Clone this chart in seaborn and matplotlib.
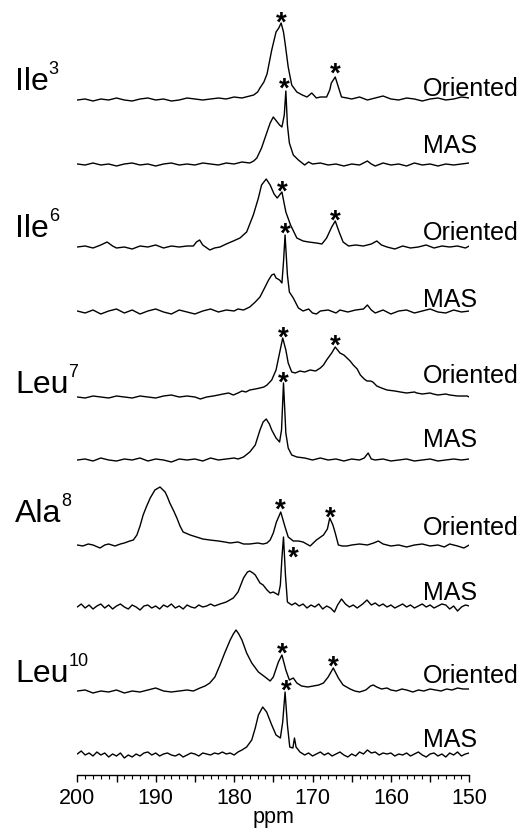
import numpy as np
import matplotlib
matplotlib.use('Agg')
import matplotlib.pyplot as plt
from matplotlib.ticker import MultipleLocator, FuncFormatter
import seaborn as sns

# spectra: (ppm, intensity above own baseline)
ile3_oriented = [(200, 0), (199, 1), (198, -1), (197, 1), (196, 0), (195, 2), (194, 0), (193, -1), (192, 1),
                 (191, 2), (190, 0), (189, 1), (188, -1), (187, 0), (186, 2), (185, 1), (184, 0), (183, 1),
                 (182, 2), (181, 1), (180, 3), (179, 2), (178, 4), (177.5, 5), (177, 8), (176.7, 12),
                 (176.2, 18), (175.8, 26), (175.2, 50), (174.65, 68), (174.3, 72), (174.0, 77), (173.7, 68),
                 (173.5, 57), (173.1, 33), (172.65, 15), (172.0, 8), (171.3, 5), (170.7, 3), (170.1, 7),
                 (169.5, 2), (169.0, 3), (168.2, 3), (167.8, 10), (167.6, 17), (167.1, 23), (166.7, 13),
                 (166.3, 3), (165.6, 2), (165, 1), (164, 3), (163, 0), (162, 2), (161, 4), (160, 1), (159, 0),
                 (158, 2), (157, 1), (156, -1), (155, 1), (154, 2), (153, 0), (152, 1), (151, 3), (150, 2)]
ile3_mas = [(200, 1), (199, 0), (198, 2), (197, 0), (196, 1), (195, -1), (194, 1), (193, 2), (192, 0), (191, 1),
            (190, -1), (189, 1), (188, 2), (187, 0), (186, 1), (185, 0), (184, 2), (183, 1), (182, 0), (181, 2),
            (180, 1), (179, 3), (178, 2), (177.5, 4), (177.1, 7), (176.5, 17), (175.8, 33), (175.4, 42),
            (175.0, 48), (174.6, 44), (174.2, 40), (173.9, 38), (173.6, 50), (173.4, 74), (173.2, 40),
            (172.95, 22), (172.45, 10), (171.8, 5), (171.0, 0), (170.5, 3), (170, 1), (169, 2), (168, 0),
            (167, 1), (166, -1), (165, 1), (164, 0), (163, 4), (162.5, 1), (162, -1), (161, 2), (160, 0),
            (159, 1), (158, -1), (157, 2), (156, 0), (155, 1), (154, -1), (153, 1), (152, 0), (151, 1), (150, 2)]
ile6_oriented = [(200, 0), (199, 1), (198, -1), (197, 2), (196.2, 5), (195.5, 1), (195, -1), (194, 0), (193, -2),
                 (192, 1), (191, 0), (190, 2), (189, -1), (188, 1), (187, 0), (186, 1), (185.2, 1), (184.8, 5),
                 (184.4, 7), (184.0, 2), (183.1, -3), (182.5, -1), (181.8, 0), (181, 3), (180.1, 6), (179.25, 9),
                 (178.4, 15), (177.55, 32), (176.9, 49), (176.5, 62), (175.9, 68), (175.4, 62), (174.9, 53),
                 (174.5, 49), (173.9, 55), (173.4, 35), (172.8, 22), (172.0, 9), (171.2, 6), (170.5, 5),
                 (169.5, 4), (168.8, 3), (168.2, 9), (167.55, 20), (167.1, 26), (166.6, 15), (166.1, 5),
                 (165.4, 1), (164.5, 2), (163.5, 1), (162.5, 3), (161.8, 6), (161.2, 2), (160.5, 0), (159.5, -2),
                 (158.5, 1), (157.5, -1), (156.5, 0), (155.5, 2), (154.5, -1), (153.5, 1), (152.5, 0),
                 (151.5, 1), (150.5, -1), (150, 1)]
ile6_mas = [(200, 1), (199, -1), (198, 2), (197, -2), (196, 1), (195, 3), (194, -1), (193, 2), (192, -2), (191, 1),
            (190, 3), (189, 0), (188, -2), (187, 2), (186, 0), (185, -2), (184, 1), (183, 3), (182, 0), (181, 2),
            (180, 1), (179.5, 3), (178.8, 2), (178, 5), (177.3, 10), (176.7, 15), (176.05, 25), (175.6, 32),
            (175.2, 37), (174.9, 38), (174.65, 34), (174.2, 32), (173.9, 29), (173.7, 50), (173.5, 77),
            (173.2, 37), (172.95, 20), (172.45, 14), (171.8, 4), (171.2, 1), (170.5, 3), (170, -1),
            (169.5, -2), (169, 1), (168, 2), (167, -1), (166.5, 2), (165.5, 0), (164.5, 2), (163.5, 3),
            (163, 7), (162.5, 2), (162, -1), (161, 2), (160, -2), (159, 1), (158, 2), (157, -1), (156, 1),
            (155, 3), (154, 0), (153, -1), (152, 2), (151, 0), (150, 1)]
leu7_oriented = [(200, 0), (199, -1), (198, 1), (197, 0), (196, -1), (195, 1), (194, 0), (193, -1), (192, 1),
                 (191, 0), (190, -1), (189, 1), (188, 2), (187, 0), (186, 1), (185, 0), (184.3, -2), (183.5, 0),
                 (182.65, 1), (182, 2), (181.4, 3), (180.7, 4), (180.1, 2), (179.5, 4), (179.0, 6), (178.5, 5),
                 (178.0, 7), (177.3, 8), (176.7, 9), (176.2, 10), (175.8, 12), (175.2, 17), (174.65, 27),
                 (174.2, 44), (173.8, 59), (173.4, 47), (173.1, 34), (172.65, 25), (172.2, 24), (171.6, 26),
                 (171, 25), (170.3, 27), (169.6, 26), (169.0, 29), (168.6, 32), (168.2, 37), (167.55, 44),
                 (167.1, 50), (166.8, 47), (166.5, 44), (166.0, 42), (165.6, 39), (165.2, 36), (164.8, 32),
                 (164.3, 28), (163.9, 22), (163.4, 18), (163.05, 16), (162.6, 16), (162.3, 15), (161.8, 11),
                 (161.2, 9), (160.5, 7), (159.5, 6), (158.8, 5), (158, 4), (157, 5), (156.7, 4), (156, 3),
                 (155, 4), (154.6, 3), (154, 2), (153, 3), (152.5, 2), (151.5, 1), (150.3, 1), (150, 0)]
leu7_mas = [(200, 0), (199, 1), (198, -1), (197, 2), (196, 0), (195, -1), (194, 1), (193, 0), (192, 2), (191, -1),
            (190, 1), (189, 0), (188, -2), (187, 1), (186, 0), (185, 1), (184, -1), (183, 2), (182, 0), (181, 1),
            (180, 2), (179.5, 1), (178.8, 3), (178, 8), (177.3, 15), (176.7, 30), (176.3, 38), (175.9, 41),
            (175.5, 36), (175.2, 30), (174.65, 22), (174.2, 18), (173.95, 30), (173.7, 77), (173.4, 27),
            (173.1, 12), (172.65, 5), (172, 3), (171, 2), (170, 0), (169, 2), (168, 0), (167, 1), (166, -1),
            (165, 1), (164, 0), (163.4, 2), (162.9, 7), (162.5, 1), (162, 0), (161, 1), (160, -1), (159, 0),
            (158, 1), (157, -1), (156, 0), (155, 1), (154, -1), (153, 0), (152, 1), (151, 0), (150, 1)]
ala8_oriented = [(200, 0), (199.3, -1), (198.6, 1), (198, 0), (197.1, -3), (196.5, 0), (196, 1), (195.2, -1),
                 (194.5, 1), (194, 2), (193.3, 4), (192.85, 5), (192.4, 10), (192, 19), (191.6, 30), (191.2, 38),
                 (190.7, 47), (190.1, 55), (189.45, 58), (188.8, 53), (188.5, 48), (188.2, 42), (187.7, 34),
                 (187.3, 27), (186.9, 19), (186.5, 13), (185.6, 10), (184.8, 8), (184, 6), (183.1, 5), (182, 4),
                 (181.2, 3), (180.5, 2), (179.5, 3), (178.8, 1), (178, 1), (177, 2), (176.3, 1), (175.8, 2),
                 (175.4, 5), (175.0, 12), (174.6, 23), (174.05, 33), (173.5, 18), (173.1, 8), (172.45, 4),
                 (171.8, 4), (171.2, 3), (170.3, -1), (169.5, 5), (168.6, 10), (168.1, 16), (167.8, 27),
                 (167.4, 20), (167.1, 12), (166.7, 0), (166.2, -1), (165.6, -1), (165, 0), (164, 1), (163, 0),
                 (162.2, 2), (161.6, 4), (161, 1), (160, -1), (159, 0), (158, -2), (157, 0), (156, 1), (155, -1),
                 (154, 0), (153.2, -2), (152.5, 1), (151.5, -1), (150.7, -3), (150, 0)]
ala8_mas = [(200, 0), (199.5, 3), (199, -1), (198.5, 2), (198, -2), (197.5, 1), (197, 3), (196.5, -1), (196, 2),
            (195.5, -2), (195, 1), (194.5, 3), (194, 0), (193.5, -2), (193, 2), (192.5, 0), (192, -3), (191.5, 1),
            (191, 2), (190.5, -1), (190, 1), (189.5, -2), (189, 2), (188.5, 0), (188, 3), (187.5, -1), (187, 1),
            (186.5, -2), (186, 2), (185.5, 0), (185, -1), (184.5, 2), (184, 0), (183.5, 1), (183, 3), (182.5, 1),
            (181.8, 3), (181.0, 5), (180.1, 9), (179.5, 15), (178.8, 29), (178.3, 35), (178.0, 36), (177.6, 34),
            (177.3, 32), (176.7, 24), (176.3, 22), (175.8, 17), (175.4, 14), (175.0, 15), (174.35, 12),
            (174.1, 22), (173.9, 49), (173.7, 70), (173.45, 32), (173.2, 5), (172.65, 2), (172.2, 4),
            (171.7, 1), (171.2, 3), (170.7, -1), (170.2, 2), (169.7, 0), (169.2, 3), (168.7, -2), (168.2, 1),
            (167.7, -1), (167.2, -5), (166.8, 2), (166.3, 8), (165.8, 3), (165.3, 0), (164.8, 2), (164.3, -1),
            (163.6, 3), (163.05, 7), (162.5, 2), (162, 4), (161.5, 1), (161, 3), (160.5, 0), (160, 2),
            (159.5, -1), (159, 1), (158.5, 3), (158, 0), (157.5, 2), (157, -1), (156.5, 1), (156, 3), (155.5, 0),
            (155, 2), (154.5, -1), (154, 1), (153.5, 3), (153, 2), (152.5, -2), (152, 1), (151.5, -4), (151, 0),
            (150.5, 2), (150, 1)]
leu10_oriented = [(200, 0), (199, 1), (198, -2), (197, 0), (196, -1), (195, 1), (194, -2), (193, 0), (192, -1),
                  (191, 1), (190, 3), (189, 0), (188, -1), (187, 0), (186, 1), (185.2, 0), (184.35, 3), (183.7, 5),
                  (183.1, 8), (182.45, 14), (181.8, 26), (181.2, 38), (180.5, 51), (180.1, 57), (179.75, 61),
                  (179.4, 57), (179.0, 51), (178.4, 38), (177.75, 28), (176.9, 19), (176.05, 14), (175.4, 10),
                  (175.0, 14), (174.35, 29), (173.9, 36), (173.4, 21), (172.95, 11), (172.45, 13), (172.0, 8),
                  (171.4, 5), (170.6, 4), (169.9, 5), (169.2, 6), (168.6, 8), (168.0, 14), (167.35, 23),
                  (166.7, 13), (166.1, 6), (165.2, 2), (164.6, 0), (164, -1), (163.2, 1), (162.6, 5), (162.25, 6),
                  (161.8, 4), (161.2, 2), (160.5, 3), (160, 1), (159.3, 0), (158.6, 2), (158, 1), (157.2, -1),
                  (156.5, 1), (155.8, 0), (155, 2), (154.3, 1), (153.6, 0), (152.9, 2), (152.2, 1), (151.5, 3),
                  (150.8, 2), (150, 2)]
leu10_mas = [(200, 1), (199.5, 4), (199, 0), (198.5, 2), (198, -1), (197.5, 3), (197, 0), (196.5, 2), (196, -2),
             (195.5, 1), (195, -1), (194.5, 2), (194, -3), (193.5, 0), (193, -2), (192.5, 1), (192, -1),
             (191.5, 2), (191, 3), (190.5, 0), (190, 2), (189.5, -1), (189, 1), (188.5, 2), (188, 0), (187.5, -1),
             (187, 1), (186.5, -2), (186, 0), (185.5, 2), (185, 1), (184.5, -1), (184, 2), (183.5, 1), (183, 0),
             (182.5, 2), (182, 1), (181.5, 3), (181, 1), (180.5, 2), (180, 0), (179.5, 3), (179.0, 5), (178.4, 8),
             (177.75, 15), (177.3, 27), (176.9, 40), (176.35, 48), (175.85, 43), (175.2, 30), (174.65, 20),
             (174.1, 17), (173.8, 33), (173.5, 63), (173.2, 30), (172.9, 8), (172.5, 7), (172.3, 17), (172.1, 8),
             (171.6, 3), (171, 0), (170.5, 2), (170, -1), (169.5, 1), (169, 3), (168.5, 0), (168, 2), (167.5, -1),
             (167, 1), (166.5, 3), (166, 0), (165.5, -2), (165, 1), (164.5, -1), (164, 3), (163.5, 1), (163, 5),
             (162.5, 2), (162, 3), (161.5, 0), (161, 2), (160.5, 1), (160, 2), (159.5, -1), (159, 1), (158.5, 0),
             (158, 2), (157.5, -1), (157, 1), (156.5, 3), (156, 0), (155.5, -2), (155, 1), (154.5, 2), (154, -1),
             (153.5, 1), (153, -2), (152.5, 2), (152, 0), (151.5, 3), (151, -1), (150.5, 1), (150, 2)]

traces = [ile3_oriented, ile3_mas, ile6_oriented, ile6_mas, leu7_oriented, leu7_mas,
          ala8_oriented, ala8_mas, leu10_oriented, leu10_mas]
trace_labels = ['Oriented', 'MAS'] * 5
residues = ['Ile', 'Ile', 'Leu', 'Ala', 'Leu']
residue_numbers = ['3', '6', '7', '8', '10']

# starred peaks: (ppm, height above baseline of the star centre)
stars = [[(174.0, 83), (167.1, 32)], [(173.6, 82)],
         [(173.8, 61), (167.1, 32)], [(173.5, 84)],
         [(173.7, 65), (167.1, 57)], [(173.7, 83)],
         [(174.05, 41), (167.7, 33)], [(172.5, 55)],
         [(173.9, 43), (167.35, 30)], [(173.4, 70)]]

# layout, in pixels measured down from the top of the figure
W, H = 525, 838
AX_BOTTOM = 775
baselines_px = [100, 165, 247, 312, 397, 460, 545, 607, 691, 755]
label_base_px = [96, 153, 240, 307, 383, 447, 535, 600, 683, 747]
residue_base_px = [90, 237, 393, 522, 682]

sns.set_style('ticks')
plt.rcParams['font.family'] = ['Liberation Sans', 'DejaVu Sans']
plt.rcParams['text.color'] = 'black'
plt.rcParams['axes.labelcolor'] = 'black'
plt.rcParams['xtick.color'] = 'black'

fig = plt.figure(figsize=(W / 100, H / 100), dpi=100)
x0, x1 = 77.3, 469.3
ax = fig.add_axes([x0 / W, (H - AX_BOTTOM) / H, (x1 - x0) / W, AX_BOTTOM / H])
ax.set_xlim(200, 150)
ax.set_ylim(0, AX_BOTTOM)

ppm_per_px = 50 / (x1 - x0)
star_fs = 20
star_shift = 0.5 * star_fs * 100 / 72

for i, tr in enumerate(traces):
    ppm = np.array([p for p, _ in tr])
    inten = np.array([v for _, v in tr])
    off = AX_BOTTOM - baselines_px[i]
    sns.lineplot(x=ppm, y=inten + off, ax=ax, color='black', linewidth=1.0, estimator=None)
    for sp, sh in stars[i]:
        ax.text(sp, off + sh - star_shift, '*', fontsize=star_fs, fontweight='bold',
                ha='center', va='baseline', color='black')
    ax.text(155.9, AX_BOTTOM - label_base_px[i], trace_labels[i], fontsize=18,
            ha='left', va='baseline', clip_on=False)

for j, (res, num) in enumerate(zip(residues, residue_numbers)):
    lx = 200 - (15 - x0) * ppm_per_px
    t = ax.text(lx, AX_BOTTOM - residue_base_px[j], res, fontsize=23, ha='left', va='baseline', clip_on=False)
    ax.annotate(num, xy=(1, 1), xycoords=t, xytext=(0, 4), textcoords='offset points',
                fontsize=13, ha='left', va='top')

for s in ['left', 'right', 'top']:
    ax.spines[s].set_visible(False)
ax.spines['bottom'].set_color('black')
ax.spines['bottom'].set_linewidth(1.0)
ax.set_yticks([])
ax.xaxis.set_major_locator(MultipleLocator(5))
ax.xaxis.set_minor_locator(MultipleLocator(1))
ax.xaxis.set_major_formatter(FuncFormatter(lambda v, p: f'{v:.0f}' if round(v) % 10 == 0 else ''))
ax.tick_params(axis='x', which='major', bottom=True, direction='out', length=5, width=1,
               labelsize=15.5, pad=4, colors='black')
ax.tick_params(axis='x', which='minor', bottom=True, direction='out', length=3, width=0.8, colors='black')
ax.set_xlabel('ppm', fontsize=15.5, labelpad=-1)
ax.set_ylabel('')

fig.savefig('out.png', dpi=100)
